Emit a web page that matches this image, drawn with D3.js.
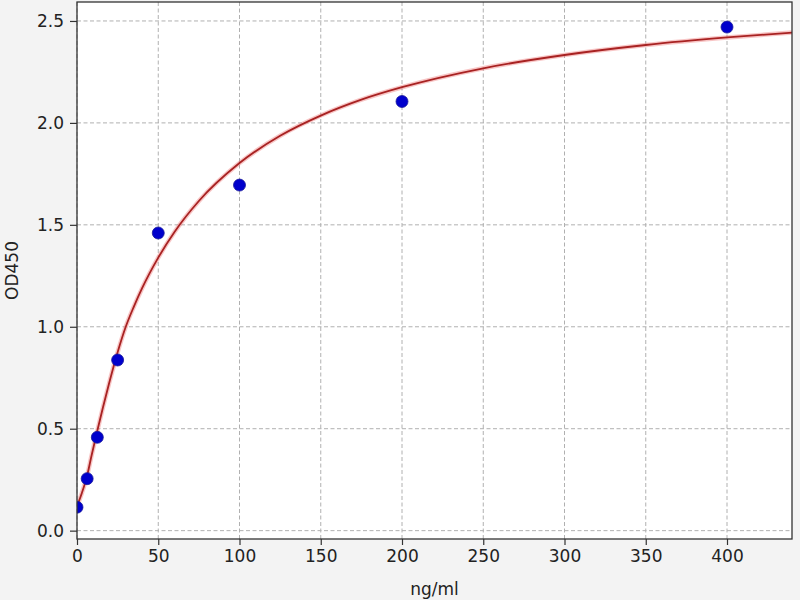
<!doctype html>
<html lang="en">
<head>
    <meta charset="UTF-8">
    <title>OD450 standard curve</title>
    <script src="https://cdnjs.cloudflare.com/ajax/libs/d3/7.8.5/d3.min.js"></script>
    <style>
        html, body { margin: 0; padding: 0; background: #f3f3f3; }
        svg { display: block; }
        text { font-family: "DejaVu Sans", sans-serif; fill: #222; }
    </style>
</head>
<body>
<svg id="chart" width="800" height="600"></svg>

<script>

    // standard points (concentration, OD)
    var conc = [0, 6.25, 12.5, 25, 50, 100, 200, 400];
    var od = [0.115, 0.255, 0.458, 0.837, 1.46, 1.695, 2.105, 2.47];

    // fitted curve
    var curveX = [0, 3, 6.25, 9, 12.5, 16, 20, 25, 30, 35, 40, 50, 60, 75, 100, 125, 150, 175, 200, 250, 300, 350, 400, 440];
    var curveY = [0.12, 0.185, 0.27, 0.37, 0.49, 0.605, 0.73, 0.875, 1.0, 1.099, 1.188, 1.339, 1.465, 1.617, 1.803, 1.937, 2.036, 2.114, 2.175, 2.268, 2.333, 2.382, 2.419, 2.443];

    var xTicks = [0, 50, 100, 150, 200, 250, 300, 350, 400];
    var yTicks = [0.0, 0.5, 1.0, 1.5, 2.0, 2.5];

    var pLeft = 77, pRight = 792, pTop = 2, pBottom = 539;

    var svg = d3.select('#chart');

    var x = d3.scaleLinear().domain([0, 440]).range([pLeft, pRight]);
    var y = d3.scaleLinear().domain([-0.041, 2.593]).range([pBottom, pTop]);

    // plot area
    svg.append('rect')
        .attr('x', pLeft).attr('y', pTop)
        .attr('width', pRight - pLeft).attr('height', pBottom - pTop)
        .attr('fill', '#ffffff');

    // grid
    var grid = svg.append('g').attr('stroke', '#b0b0b0').attr('stroke-width', 1)
        .attr('stroke-dasharray', '4,2.5');

    grid.selectAll('.gx').data(xTicks).enter().append('line')
        .attr('x1', function (d) { return x(d); })
        .attr('x2', function (d) { return x(d); })
        .attr('y1', pTop).attr('y2', pBottom);

    grid.selectAll('.gy').data(yTicks).enter().append('line')
        .attr('y1', function (d) { return y(d); })
        .attr('y2', function (d) { return y(d); })
        .attr('x1', pLeft).attr('x2', pRight);

    // curve
    var line = d3.line()
        .x(function (d, i) { return x(curveX[i]); })
        .y(function (d) { return y(d); })
        .curve(d3.curveMonotoneX);

    svg.append('clipPath').attr('id', 'clip')
        .append('rect')
        .attr('x', pLeft).attr('y', pTop)
        .attr('width', pRight - pLeft).attr('height', pBottom - pTop);

    var plot = svg.append('g').attr('clip-path', 'url(#clip)');

    plot.append('path')
        .datum(curveY)
        .attr('d', line)
        .attr('fill', 'none')
        .attr('stroke', '#f08080')
        .attr('stroke-opacity', 0.45)
        .attr('stroke-width', 4.5);

    plot.append('path')
        .datum(curveY)
        .attr('d', line)
        .attr('fill', 'none')
        .attr('stroke', '#a82222')
        .attr('stroke-width', 1.8);

    // points
    plot.selectAll('circle').data(od).enter().append('circle')
        .attr('cx', function (d, i) { return x(conc[i]); })
        .attr('cy', function (d) { return y(d); })
        .attr('r', 6)
        .attr('fill', '#0000cc')
        .attr('stroke', '#1a1a9a')
        .attr('stroke-width', 0.8);

    // axes
    var xAxis = d3.axisBottom(x).tickValues(xTicks).tickSize(6).tickPadding(5)
        .tickFormat(d3.format('d'));
    var yAxis = d3.axisLeft(y).tickValues(yTicks).tickSize(7).tickPadding(6)
        .tickFormat(d3.format('.1f'));

    var gx = svg.append('g').attr('transform', 'translate(0,' + pBottom + ')').call(xAxis);
    var gy = svg.append('g').attr('transform', 'translate(' + pLeft + ',0)').call(yAxis);

    [gx, gy].forEach(function (g) {
        g.select('.domain').remove();
        g.selectAll('.tick line').attr('stroke', '#333').attr('stroke-width', 1.2);
        g.selectAll('.tick text')
            .style('font-family', '"DejaVu Sans", sans-serif')
            .style('font-size', '17px')
            .attr('fill', '#222');
    });

    // frame
    svg.append('rect')
        .attr('x', pLeft).attr('y', pTop)
        .attr('width', pRight - pLeft).attr('height', pBottom - pTop)
        .attr('fill', 'none')
        .attr('stroke', '#333')
        .attr('stroke-width', 1.3);

    // labels
    svg.append('text')
        .attr('x', (pLeft + pRight) / 2)
        .attr('y', 595)
        .attr('text-anchor', 'middle')
        .style('font-size', '17px')
        .text('ng/ml');

    svg.append('text')
        .attr('transform', 'translate(18,' + ((pTop + pBottom) / 2) + ') rotate(-90)')
        .attr('text-anchor', 'middle')
        .style('font-size', '17px')
        .text('OD450');

</script>
</body>
</html>
